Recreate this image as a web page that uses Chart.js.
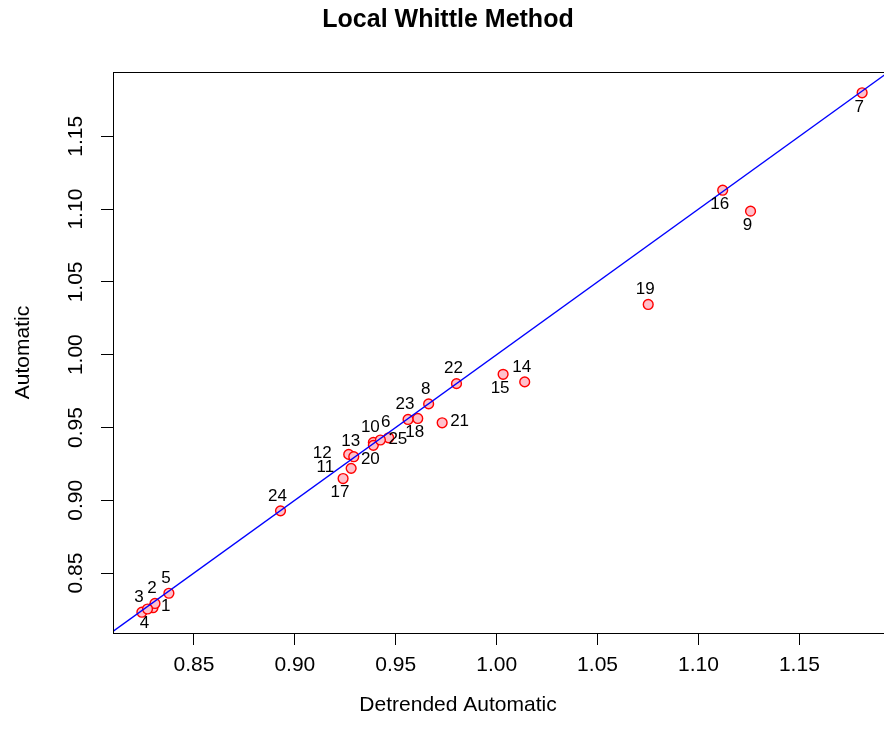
<!DOCTYPE html>
<html>
<head>
<meta charset="utf-8">
<title>Local Whittle Method</title>
<script src="https://cdn.jsdelivr.net/npm/chart.js@4.4.1/dist/chart.umd.min.js"></script>
<style>
  html, body { margin: 0; padding: 0; background: #fff; overflow: hidden; }
  #wrap { width: 884px; height: 742px; overflow: hidden; }
  canvas { display: block; }
</style>
</head>
<body>
<div id="wrap"><canvas id="lwChart" width="900" height="742"></canvas></div>
<script>
// Local Whittle estimates per series: detrended automatic (x) vs automatic (y)
const seriesIds = [1, 2, 3, 4, 5, 6, 7, 8, 9, 10, 11, 12, 13, 14, 15, 16, 17, 18, 19, 20, 21, 22, 23, 24, 25];
const detrended = [0.8297, 0.8307, 0.8242, 0.8270, 0.8376, 0.9465, 1.1811, 0.9663, 1.1258, 0.9389,
                   0.9279, 0.9267, 0.9292, 1.0139, 1.0032, 1.1120, 0.9239, 0.9609, 1.0751, 0.9389,
                   0.9730, 0.9801, 0.9561, 0.8929, 0.9424];
const automatic = [0.8262, 0.8291, 0.8231, 0.8253, 0.8361, 0.9429, 1.1799, 0.9662, 1.0986, 0.9397,
                   0.9219, 0.9315, 0.9299, 0.9813, 0.9865, 1.1130, 0.9149, 0.9562, 1.0345, 0.9377,
                   0.9532, 0.9801, 0.9555, 0.8927, 0.9414];
// label side for each id: 1 below, 2 left, 3 above, 4 right
const labelPos = [4, 3, 3, 1, 3, 3, 1, 3, 1, 3, 2, 2, 3, 3, 1, 1, 1, 1, 3, 1, 4, 3, 3, 3, 4];

const xTicks = [0.85, 0.90, 0.95, 1.00, 1.05, 1.10, 1.15];
const yTicks = [0.85, 0.90, 0.95, 1.00, 1.05, 1.10, 1.15];
const xRange = [0.8099, 1.1954];
const yRange = [0.8088, 1.1942];
// reference line y = x
const refLine = [0.8, 1.2];

const FONT = '"Liberation Sans", Arial, Helvetica, sans-serif';

// box, tick labels and titles
const framePlugin = {
    id: 'frame',
    afterDraw(chart) {
        const { ctx, chartArea: a, scales: { x, y } } = chart;
        ctx.save();
        ctx.strokeStyle = '#000';
        ctx.lineWidth = 1;
        ctx.strokeRect(a.left + 0.5, a.top + 0.5, a.right - a.left, a.bottom - a.top);

        ctx.fillStyle = '#000';
        ctx.textAlign = 'center';
        ctx.textBaseline = 'middle';
        ctx.font = `21px ${FONT}`;
        xTicks.forEach(v => ctx.fillText(v.toFixed(2), x.getPixelForValue(v), 665));
        yTicks.forEach(v => {
            ctx.save();
            ctx.translate(76, y.getPixelForValue(v));
            ctx.rotate(-Math.PI / 2);
            ctx.fillText(v.toFixed(2), 0, 0);
            ctx.restore();
        });

        ctx.fillText('Detrended Automatic', 458, 705);
        ctx.save();
        ctx.translate(23, (a.top + a.bottom) / 2);
        ctx.rotate(-Math.PI / 2);
        ctx.fillText('Automatic', 0, 0);
        ctx.restore();

        ctx.font = `bold 25px ${FONT}`;
        ctx.fillText('Local Whittle Method', 448, 20);
        ctx.restore();
    }
};

// id labels next to each point
const idLabelPlugin = {
    id: 'idLabels',
    afterDatasetsDraw(chart) {
        const { ctx } = chart;
        const meta = chart.getDatasetMeta(1);
        ctx.save();
        ctx.fillStyle = '#000';
        ctx.font = `17px ${FONT}`;
        ctx.textBaseline = 'middle';
        meta.data.forEach((pt, i) => {
            const txt = String(seriesIds[i]);
            const pos = labelPos[i];
            if (pos === 1) {
                ctx.textAlign = 'center';
                ctx.fillText(txt, pt.x - 3, pt.y + 14);
            } else if (pos === 3) {
                ctx.textAlign = 'center';
                ctx.fillText(txt, pt.x - 3, pt.y - 15);
            } else if (pos === 2) {
                ctx.textAlign = 'right';
                ctx.fillText(txt, pt.x - 17, pt.y - 1);
            } else {
                ctx.textAlign = 'left';
                ctx.fillText(txt, pt.x + 8, pt.y - 1);
            }
        });
        ctx.restore();
    }
};

const ctx = document.getElementById('lwChart').getContext('2d');
new Chart(ctx, {
    type: 'scatter',
    data: {
        datasets: [{
            type: 'line',
            label: 'y = x',
            data: refLine.map(v => ({ x: v, y: v })),
            borderColor: '#0000ff',
            borderWidth: 1.3,
            pointRadius: 0,
            fill: false
        }, {
            label: 'Series',
            data: detrended.map((v, i) => ({ x: v, y: automatic[i] })),
            backgroundColor: '#ffc0cb',
            borderColor: '#ff0000',
            borderWidth: 1.4,
            pointRadius: 4.9
        }]
    },
    options: {
        responsive: false,
        animation: false,
        layout: { padding: { left: 0, top: 72, right: 9, bottom: 0 } },
        plugins: {
            legend: { display: false },
            tooltip: { enabled: false },
            title: { display: false }
        },
        scales: {
            x: {
                type: 'linear',
                min: xRange[0],
                max: xRange[1],
                afterBuildTicks: s => { s.ticks = xTicks.map(v => ({ value: v })); },
                afterFit: s => { s.height = 109; },
                ticks: { display: false },
                border: { display: false },
                grid: { drawOnChartArea: false, drawTicks: true, tickLength: 12, color: '#000', lineWidth: 1 }
            },
            y: {
                type: 'linear',
                min: yRange[0],
                max: yRange[1],
                afterBuildTicks: s => { s.ticks = yTicks.map(v => ({ value: v })); },
                afterFit: s => { s.width = 113; },
                ticks: { display: false },
                border: { display: false },
                grid: { drawOnChartArea: false, drawTicks: true, tickLength: 12, color: '#000', lineWidth: 1 }
            }
        }
    },
    plugins: [framePlugin, idLabelPlugin]
});
</script>
</body>
</html>
